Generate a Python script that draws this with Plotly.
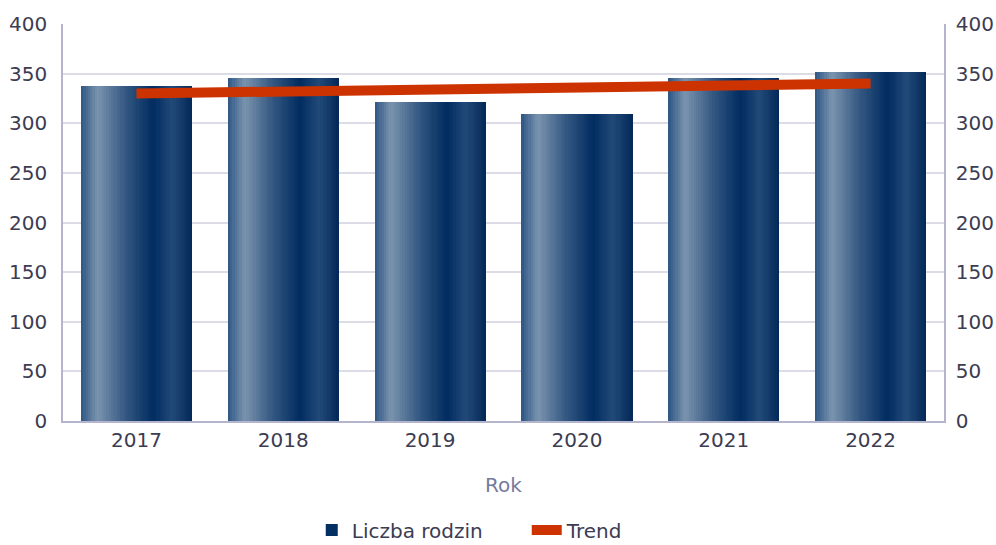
import plotly.graph_objects as go

years = ["2017", "2018", "2019", "2020", "2021", "2022"]
families = [338, 346, 321, 309, 346, 352]
trend = [330, 332, 334, 336, 338, 340]
y_ticks = [0, 50, 100, 150, 200, 250, 300, 350, 400]

# gradient stops across the bar width (fraction, rgb)
stops = [(0.0, (46, 86, 132)), (0.15, (122, 148, 174)), (0.40, (52, 88, 130)),
         (0.65, (1, 44, 96)), (0.82, (34, 74, 120)), (1.0, (3, 40, 88))]

def col(t):
    for (a, ca), (b, cb) in zip(stops[:-1], stops[1:]):
        if a <= t <= b:
            f = (t - a) / (b - a)
            c = [round(ca[i] + f * (cb[i] - ca[i])) for i in range(3)]
            return f"rgb({c[0]},{c[1]},{c[2]})"
    return "rgb(3,40,88)"

fig = go.Figure()
W = 0.756
N = 48
for i in range(N):
    t = (i + 0.5) / N
    fig.add_trace(go.Bar(
        x=years, y=families, width=W / N * 1.05, offset=-W / 2 + i * W / N,
        marker=dict(color=col(t), line=dict(width=0)),
        name="Liczba rodzin", legendgroup="b", showlegend=(i == 30),
        hoverinfo="skip"))

fig.add_trace(go.Scatter(
    x=years, y=trend, mode="lines", name="Trend", yaxis="y2",
    line=dict(color="#cc3300", width=10), hoverinfo="skip"))

font_family = "DejaVu Sans"
tick_font = dict(family=font_family, size=20, color="#3c3c52")
axis_col = "#b4b4cc"
grid_col = "#dcdce6"

fig.update_layout(
    width=996, height=545,
    margin=dict(l=63, r=52, t=24, b=124, autoexpand=False),
    paper_bgcolor="white", plot_bgcolor="white",
    barmode="overlay", bargap=0,
    font=dict(family=font_family, color="#3c3c52"),
    xaxis=dict(
        type="category", showline=True, linecolor=axis_col, linewidth=1.5,
        ticks="", tickfont=tick_font, automargin=False,
        title=dict(text="Rok", font=dict(family=font_family, size=20, color="#767a9c"), standoff=27),
    ),
    yaxis=dict(
        range=[0, 400], tickvals=y_ticks, showline=True, linecolor=axis_col, linewidth=1.5,
        gridcolor=grid_col, gridwidth=1.5, tickfont=tick_font, ticks="", zeroline=False,
        automargin=False, ticklabelstandoff=10,
    ),
    yaxis2=dict(
        range=[0, 400], tickvals=y_ticks, overlaying="y", side="right", showline=True,
        linecolor=axis_col, linewidth=1.5, showgrid=False, tickfont=tick_font, ticks="",
        zeroline=False, automargin=False, ticklabelstandoff=6,
    ),
    legend=dict(orientation="h", x=0.313, xanchor="left", xref="container",
                y=0.0275, yref="container", yanchor="middle",
                font=dict(family=font_family, size=20, color="#3c3c52"),
                itemwidth=30, entrywidth=170),
    showlegend=True,
)

fig.write_html("out.html", config={"displayModeBar": False},
               post_script="document.body.style.margin='0';document.body.style.overflow='hidden';")
